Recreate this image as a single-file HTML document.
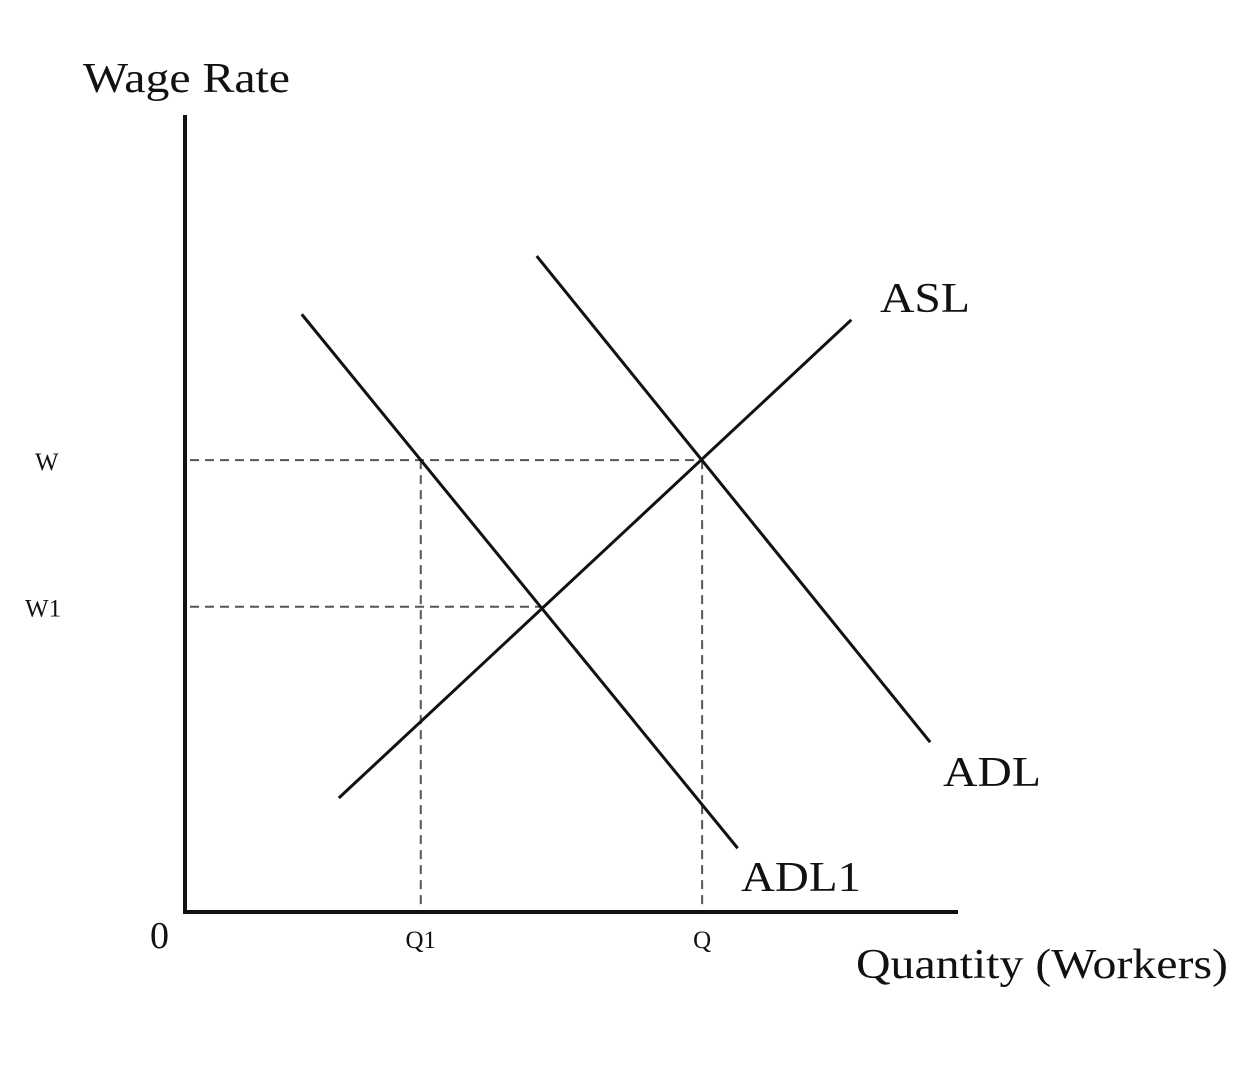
<!DOCTYPE html>
<html><head><meta charset="utf-8"><style>
html,body{margin:0;padding:0;background:#fff;}
svg{display:block;}
text{font-family:"Liberation Serif",serif;fill:#111;}
</style></head><body>
<svg id="chart" width="1260" height="1084" viewBox="0 0 1260 1084" xmlns="http://www.w3.org/2000/svg">
<text x="83" y="92" font-size="42" textLength="207" lengthAdjust="spacingAndGlyphs">Wage Rate</text>
<text x="856" y="978" font-size="42" textLength="372" lengthAdjust="spacingAndGlyphs">Quantity (Workers)</text>
<text x="150" y="948" font-size="38">0</text>
<line x1="185" y1="115" x2="185" y2="914" stroke="#111" stroke-width="4"/>
<line x1="183" y1="912" x2="958" y2="912" stroke="#111" stroke-width="4"/>
<g id="marks"></g>
</svg>
<script>
// data space: quantity 0..100, wage 0..100
const curveNames = ["ASL", "ADL", "ADL1"];
const curveStart = [[19.9, 14.3], [45.5, 82.3], [15.1, 75.0]];
const curveEnd = [[86.2, 74.3], [96.4, 21.3], [71.5, 8.0]];
const wageLabels = ["W", "W1"];
const wageValues = [56.7, 38.3];
const qtyLabels = ["Q1", "Q"];
const qtyValues = [30.5, 66.9];
const wageGuideEnds = [66.9, 46.0];

const X0 = 185, X1 = 958, Y0 = 912, Y1 = 115;
const sx = q => X0 + q * (X1 - X0) / 100;
const sy = w => Y0 - w * (Y0 - Y1) / 100;
const NS = "http://www.w3.org/2000/svg";
const g = document.getElementById("marks");
function mk(tag, attrs) {
  const el = document.createElementNS(NS, tag);
  for (const k in attrs) el.setAttribute(k, attrs[k]);
  g.appendChild(el);
  return el;
}
wageValues.forEach((w, i) => {
  const l = mk("line", {x1: 190, y1: sy(w), x2: sx(wageGuideEnds[i]), y2: sy(w), stroke: "#555", "stroke-width": 2, "stroke-dasharray": "9,6"});
  
  
  const t = mk("text", {x: i === 0 ? 35 : 25, y: sy(w) + 10, "font-size": 25});
  t.textContent = wageLabels[i];
  
  
});
qtyValues.forEach((q, i) => {
  const l = mk("line", {x1: sx(q), y1: sy(wageValues[0]), x2: sx(q), y2: 910, stroke: "#555", "stroke-width": 2, "stroke-dasharray": "9,6"});
  
  
  const t = mk("text", {x: sx(q), y: 948, "font-size": 25, "text-anchor": "middle"});
  t.textContent = qtyLabels[i];
  
  
});
const labelPos = [[880, 312], [943, 786], [741, 891]];
const labelWidths = [90, 98, 120];
curveNames.forEach((n, i) => {
  const l = mk("line", {x1: sx(curveStart[i][0]), y1: sy(curveStart[i][1]), x2: sx(curveEnd[i][0]), y2: sy(curveEnd[i][1]), stroke: "#111", "stroke-width": 3});
  
  
  const t = mk("text", {x: labelPos[i][0], y: labelPos[i][1], "font-size": 42, textLength: labelWidths[i], lengthAdjust: "spacingAndGlyphs"});
  t.textContent = n;
  
  
});
</script>
</body></html>
